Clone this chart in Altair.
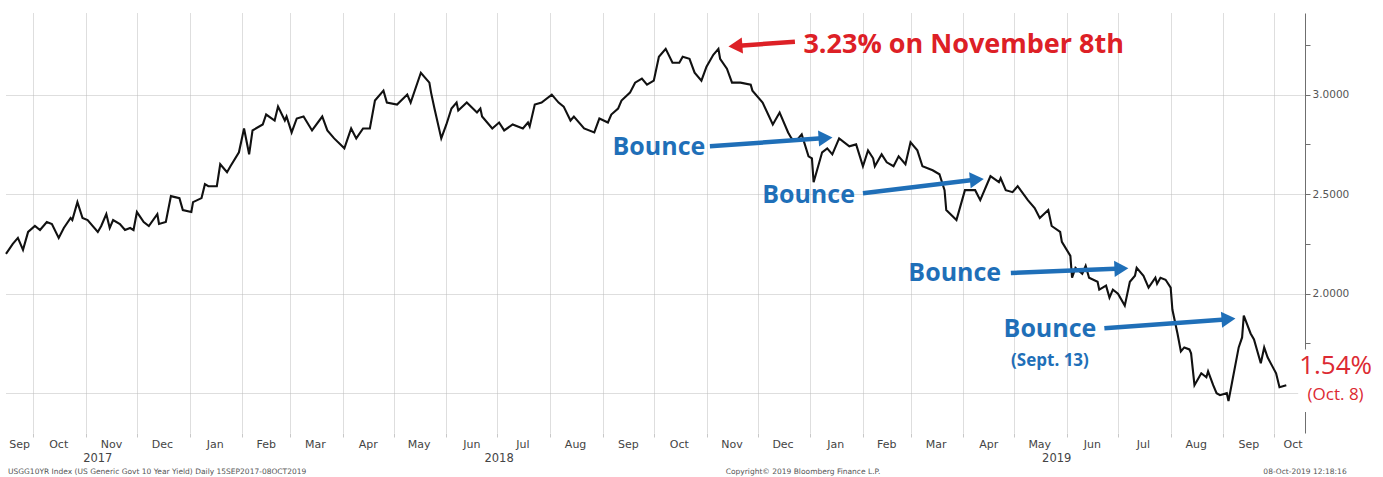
import altair as alt
import pandas as pd

W, H = 1299, 420
RED = "#dd2026"
BLUE = "#1f6fb8"

# ---- US 10Y generic yield ----
d17 = ["2017-09-15", "2017-09-19", "2017-09-22", "2017-09-25", "2017-09-28", "2017-10-02", "2017-10-05",
       "2017-10-09", "2017-10-12", "2017-10-16", "2017-10-19", "2017-10-23", "2017-10-24", "2017-10-27",
       "2017-10-30", "2017-11-02", "2017-11-08", "2017-11-10", "2017-11-13", "2017-11-15", "2017-11-17",
       "2017-11-21", "2017-11-24", "2017-11-27", "2017-11-29", "2017-12-01", "2017-12-05", "2017-12-08",
       "2017-12-13", "2017-12-14", "2017-12-18", "2017-12-21", "2017-12-26", "2017-12-28"]
v17 = [2.20, 2.25, 2.28, 2.22, 2.31, 2.34, 2.32,
       2.36, 2.35, 2.28, 2.33, 2.38, 2.37, 2.46,
       2.38, 2.37, 2.31, 2.34, 2.40, 2.33, 2.37,
       2.35, 2.32, 2.33, 2.32, 2.41, 2.36, 2.34,
       2.40, 2.35, 2.36, 2.49, 2.48, 2.42]

d18 = ["2018-01-02", "2018-01-03", "2018-01-08", "2018-01-10", "2018-01-12", "2018-01-17", "2018-01-19",
       "2018-01-23", "2018-01-25", "2018-01-30", "2018-02-02", "2018-02-05", "2018-02-07", "2018-02-13",
       "2018-02-15", "2018-02-20", "2018-02-22", "2018-02-26", "2018-02-27", "2018-03-02", "2018-03-05",
       "2018-03-09", "2018-03-14", "2018-03-20", "2018-03-23", "2018-03-27", "2018-04-02", "2018-04-06",
       "2018-04-09", "2018-04-13", "2018-04-17", "2018-04-20", "2018-04-25", "2018-04-27", "2018-05-03",
       "2018-05-09", "2018-05-11", "2018-05-17", "2018-05-22", "2018-05-23", "2018-05-25", "2018-05-29",
       "2018-06-01", "2018-06-04", "2018-06-07", "2018-06-08", "2018-06-13", "2018-06-19", "2018-06-21",
       "2018-06-22", "2018-06-28", "2018-07-02", "2018-07-05", "2018-07-10", "2018-07-16", "2018-07-19",
       "2018-07-20", "2018-07-23", "2018-07-27", "2018-08-02", "2018-08-06", "2018-08-09", "2018-08-13",
       "2018-08-15", "2018-08-21", "2018-08-27", "2018-08-30", "2018-09-04", "2018-09-06", "2018-09-10",
       "2018-09-12", "2018-09-17", "2018-09-20", "2018-09-24", "2018-09-27", "2018-10-01", "2018-10-04",
       "2018-10-08", "2018-10-12", "2018-10-16", "2018-10-18", "2018-10-22", "2018-10-25", "2018-10-29",
       "2018-11-01", "2018-11-05", "2018-11-08", "2018-11-09", "2018-11-13", "2018-11-16", "2018-11-21",
       "2018-11-27", "2018-11-28", "2018-12-04", "2018-12-10", "2018-12-14", "2018-12-19", "2018-12-21",
       "2018-12-24", "2018-12-27", "2018-12-31"]
v18 = [2.41, 2.46, 2.48, 2.55, 2.54, 2.54, 2.65,
       2.61, 2.64, 2.71, 2.83, 2.70, 2.82, 2.85,
       2.90, 2.87, 2.94, 2.87, 2.89, 2.81, 2.88,
       2.89, 2.82, 2.89, 2.82, 2.78, 2.73, 2.83,
       2.78, 2.83, 2.83, 2.97, 3.02, 2.96, 2.95,
       3.00, 2.96, 3.11, 3.06, 3.01, 2.93, 2.78,
       2.85, 2.93, 2.96, 2.92, 2.96, 2.91, 2.93,
       2.89, 2.83, 2.86, 2.82, 2.85, 2.83, 2.86,
       2.84, 2.95, 2.96, 3.00, 2.96, 2.94, 2.87,
       2.89, 2.83, 2.81, 2.88, 2.86, 2.90, 2.93,
       2.97, 3.01, 3.06, 3.08, 3.05, 3.07, 3.19,
       3.23, 3.16, 3.16, 3.19, 3.18, 3.11, 3.07,
       3.14, 3.20, 3.23, 3.18, 3.13, 3.06, 3.06,
       3.05, 3.02, 2.96, 2.85, 2.91, 2.81, 2.78,
       2.77, 2.80, 2.69]

d19 = ["2019-01-02", "2019-01-03", "2019-01-08", "2019-01-11", "2019-01-14", "2019-01-18", "2019-01-24",
       "2019-01-28", "2019-02-01", "2019-02-04", "2019-02-07", "2019-02-08", "2019-02-12", "2019-02-15",
       "2019-02-19", "2019-02-22", "2019-02-26", "2019-03-01", "2019-03-05", "2019-03-08", "2019-03-14",
       "2019-03-18", "2019-03-21", "2019-03-22", "2019-03-28", "2019-04-02", "2019-04-08", "2019-04-11",
       "2019-04-17", "2019-04-22", "2019-04-23", "2019-04-26", "2019-04-30", "2019-05-03", "2019-05-09",
       "2019-05-13", "2019-05-16", "2019-05-21", "2019-05-23", "2019-05-28", "2019-05-29", "2019-06-03",
       "2019-06-04", "2019-06-06", "2019-06-10", "2019-06-12", "2019-06-14", "2019-06-19", "2019-06-20",
       "2019-06-24", "2019-06-26", "2019-06-28", "2019-07-01", "2019-07-05", "2019-07-08", "2019-07-11",
       "2019-07-12", "2019-07-16", "2019-07-19", "2019-07-23", "2019-07-24", "2019-07-26", "2019-07-29",
       "2019-08-01", "2019-08-02", "2019-08-05", "2019-08-07", "2019-08-09", "2019-08-12", "2019-08-13",
       "2019-08-15", "2019-08-19", "2019-08-22", "2019-08-23", "2019-08-26", "2019-08-28", "2019-08-30",
       "2019-09-03", "2019-09-04", "2019-09-06", "2019-09-10", "2019-09-12", "2019-09-13", "2019-09-17",
       "2019-09-19", "2019-09-23", "2019-09-25", "2019-09-27", "2019-10-02", "2019-10-04", "2019-10-08"]
v19 = [2.68, 2.56, 2.71, 2.73, 2.70, 2.78, 2.74,
       2.75, 2.64, 2.72, 2.68, 2.64, 2.70, 2.66,
       2.64, 2.69, 2.65, 2.76, 2.72, 2.64, 2.62,
       2.60, 2.52, 2.42, 2.37, 2.52, 2.52, 2.47,
       2.59, 2.56, 2.58, 2.52, 2.51, 2.54, 2.47,
       2.43, 2.38, 2.42, 2.34, 2.31, 2.26, 2.19,
       2.08, 2.13, 2.10, 2.14, 2.08, 2.06, 2.02,
       2.04, 1.98, 2.02, 2.00, 1.94, 2.06, 2.09,
       2.13, 2.09, 2.03, 2.08, 2.05, 2.08, 2.07,
       2.03, 1.92, 1.80, 1.71, 1.73, 1.72, 1.70,
       1.54, 1.60, 1.58, 1.61, 1.54, 1.50, 1.49,
       1.50, 1.46, 1.55, 1.73, 1.78, 1.89, 1.80,
       1.77, 1.65, 1.73, 1.68, 1.60, 1.53, 1.54]

# ---- axis definitions ----
month_starts = ["2017-10", "2017-11", "2017-12", "2018-01", "2018-02", "2018-03", "2018-04", "2018-05",
                "2018-06", "2018-07", "2018-08", "2018-09", "2018-10", "2018-11", "2018-12", "2019-01",
                "2019-02", "2019-03", "2019-04", "2019-05", "2019-06", "2019-07", "2019-08", "2019-09",
                "2019-10"]
month_label_dates = ["2017-09-23", "2017-10-16", "2017-11-16", "2017-12-16", "2018-01-16", "2018-02-15",
                     "2018-03-16", "2018-04-16", "2018-05-16", "2018-06-16", "2018-07-16", "2018-08-16",
                     "2018-09-16", "2018-10-16", "2018-11-16", "2018-12-16", "2019-01-16", "2019-02-15",
                     "2019-03-16", "2019-04-16", "2019-05-16", "2019-06-16", "2019-07-16", "2019-08-16",
                     "2019-09-16", "2019-10-12"]
month_label_text = ["Sep", "Oct", "Nov", "Dec", "Jan", "Feb", "Mar", "Apr", "May", "Jun", "Jul", "Aug",
                    "Sep", "Oct", "Nov", "Dec", "Jan", "Feb", "Mar", "Apr", "May", "Jun", "Jul", "Aug",
                    "Sep", "Oct"]
year_label_dates = ["2017-11-08", "2018-07-02", "2019-05-26"]
year_label_text = ["2017", "2018", "2019"]
y_ticks = [1.5, 1.75, 2.0, 2.25, 2.5, 2.75, 3.0, 3.25]

# ---- annotations (in data coordinates) ----
arrow_tail_dates = ["2018-12-23", "2018-11-03", "2019-02-01", "2019-04-29", "2019-06-23"]
arrow_tail_vals = [3.266, 2.740, 2.505, 2.104, 1.826]
arrow_head_dates = ["2018-11-18", "2019-01-10", "2019-04-09", "2019-07-03", "2019-09-04"]
arrow_head_vals = [3.244, 2.782, 2.573, 2.126, 1.872]
arrow_colors = [RED, BLUE, BLUE, BLUE, BLUE]
arrow_shapes = ["triangle-left", "triangle-right", "triangle-right", "triangle-right", "triangle-right"]
arrow_angles = [355.7, 356.3, 354.4, 357.6, 355.7]

bounce_dates = ["2018-10-04", "2018-12-31", "2019-03-27", "2019-05-22"]
bounce_vals = [2.739, 2.497, 2.102, 1.824]

# white backing box behind the last-value note
box_dates = ["2019-10-15", "2019-12-05"]
box_vals = [1.405, 1.72]

df = pd.DataFrame({"date": d17 + d18 + d19, "yld": v17 + v18 + v19})
arrows = pd.DataFrame({"x0": arrow_tail_dates, "y0": arrow_tail_vals, "x1": arrow_head_dates,
                       "y1": arrow_head_vals, "c": arrow_colors, "s": arrow_shapes, "a": arrow_angles})
bounces = pd.DataFrame({"date": bounce_dates, "yld": bounce_vals, "t": ["Bounce"] * 4})
box = pd.DataFrame({"x0": [box_dates[0]], "x1": [box_dates[1]], "y0": [box_vals[0]], "y1": [box_vals[1]]})

x_scale = alt.Scale(domain=[alt.DateTime(year=2017, month=9, date=15, utc=True),
                            alt.DateTime(year=2019, month=10, date=19, utc=True)])
y_scale = alt.Scale(domain=[1.30, 3.41], nice=False, zero=False)
tick_values = [alt.DateTime(year=int(m[:4]), month=int(m[5:7]), date=1, utc=True) for m in month_starts]

X_AXIS = alt.Axis(values=tick_values, grid=True, gridColor="#bdbdbd", gridDash=[1, 1], title=None,
                  labels=False, domain=False, ticks=True, tickColor="#c8c8c8", tickSize=4)
Y_AXIS = alt.Axis(orient="right", values=y_ticks, grid=True, gridColor="#bdbdbd", gridDash=[1, 1], title=None,
                  gridOpacity={"condition": {"test": "datum.value % 0.5 === 0", "value": 1}, "value": 0},
                  labelExpr="datum.value >= 2 && datum.value % 0.5 === 0 ? format(datum.value, '.4f') : ''",
                  labelFont="DejaVu Sans", labelFontSize=10.5, labelColor="#555555", labelPadding=2,
                  domainColor="#6f6f6f", tickColor="#6f6f6f", tickSize=5)


def X(field):
    return alt.X(field, scale=x_scale, axis=X_AXIS, title=None)


def Y(field):
    return alt.Y(field, scale=y_scale, axis=Y_AXIS, title=None)


line = alt.Chart(df).mark_line(color="#111111", strokeWidth=2.1).encode(x=X("date:T"), y=Y("yld:Q"))

backing = alt.Chart(box).mark_rect(color="white").encode(
    x=X("x0:T"), x2=alt.X2("x1"), y=Y("y0:Q"), y2=alt.Y2("y1"))

shafts = alt.Chart(arrows).mark_rule(strokeWidth=4.5).encode(
    x=X("x0:T"), y=Y("y0:Q"), x2=alt.X2("x1"), y2=alt.Y2("y1"), color=alt.Color("c:N", scale=None))
heads = alt.Chart(arrows).mark_point(filled=True, size=260, opacity=1).encode(
    x=X("x1:T"), y=Y("y1:Q"),
    shape=alt.Shape("s:N", scale=None), angle=alt.Angle("a:Q", scale=None),
    color=alt.Color("c:N", scale=None))

bounce_text = alt.Chart(bounces).mark_text(
    font="Open Sans", fontSize=25, fontWeight="bold", color=BLUE, align="center", baseline="middle").encode(
    x=X("date:T"), y=Y("yld:Q"), text="t:N")


def note(txt, date, val, color, size, weight="normal", align="center"):
    d = pd.DataFrame({"date": [date], "yld": [val], "t": [txt]})
    return alt.Chart(d).mark_text(font="Open Sans", fontSize=size, fontWeight=weight, color=color,
                                  align=align, baseline="middle").encode(
        x=X("date:T"), y=Y("yld:Q"), text="t:N")


peak_note = note("3.23% on November 8th", "2018-12-28", 3.251, RED, 27, "bold", "left")
sept_note = note("(Sept. 13)", "2019-05-22", 1.663, BLUE, 17, "bold")
last_note = note("1.54%", "2019-11-06", 1.638, "#dc2a33", 26)
last_date_note = note("(Oct. 8)", "2019-11-06", 1.492, "#dc2a33", 17)

months = alt.Chart(pd.DataFrame({"date": month_label_dates, "t": month_label_text})).mark_text(
    font="DejaVu Sans", fontSize=11, color="#444444", baseline="middle").encode(
    x=X("date:T"), y=alt.value(H + 12), text="t:N")
years = alt.Chart(pd.DataFrame({"date": year_label_dates, "t": year_label_text})).mark_text(
    font="DejaVu Sans", fontSize=11.5, color="#444444", baseline="middle").encode(
    x=X("date:T"), y=alt.value(H + 26), text="t:N")

footer_text = ["USGG10YR Index (US Generic Govt 10 Year Yield)  Daily 15SEP2017-08OCT2019",
               "Copyright\u00a9 2019 Bloomberg Finance L.P.", "08-Oct-2019 12:18:16"]
footer_x = [2, 797, 1299]
footer_align = ["left", "center", "center"]
footers = [
    alt.Chart(pd.DataFrame({"t": [t]})).mark_text(
        font="DejaVu Sans", fontSize=7.5, color="#555555", align=a, baseline="middle").encode(
        x=alt.value(px), y=alt.value(H + 39), text="t:N")
    for t, px, a in zip(footer_text, footer_x, footer_align)
]

chart = alt.layer(
    line, backing, shafts, heads, bounce_text, peak_note, sept_note, last_note, last_date_note,
    months, years, *footers
).properties(
    width=W, height=H, autosize="none",
    padding={"left": 6, "top": 13, "right": 78, "bottom": 44},
    background="white"
).configure_view(stroke=None)

chart.save("out.html", embed_options={"renderer": "svg", "actions": False})
